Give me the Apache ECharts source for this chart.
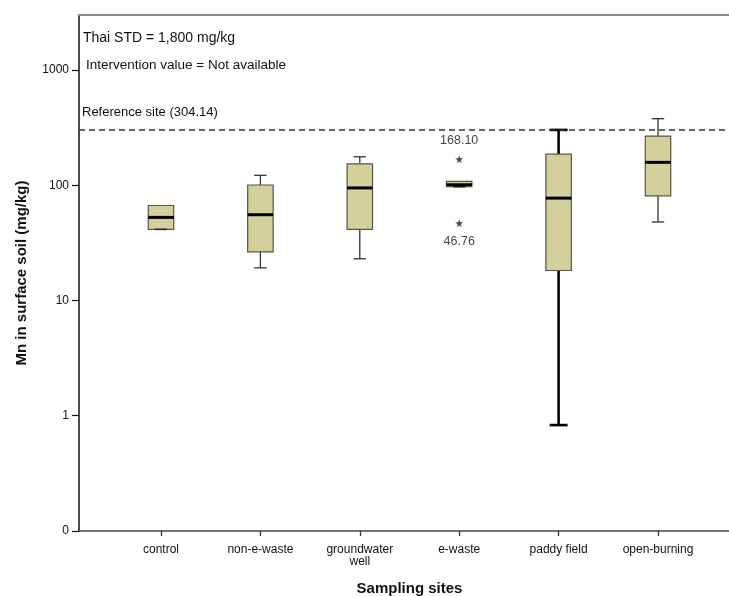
<!DOCTYPE html>
<html>
<head>
<meta charset="utf-8">
<script src="https://cdn.jsdelivr.net/npm/echarts@6/dist/echarts.min.js"></script>
<style>
html,body{margin:0;padding:0;background:#fff;}
#chart{width:729px;height:596px;}
</style>
</head>
<body>
<div id="chart"></div>
<script>
// ---- data ----
const categories = ['control', 'non-e-waste', 'groundwater\nwell', 'e-waste', 'paddy field', 'open-burning'];
const whiskerLow  = [41.4, 19.2, 23.0, 97, 0.83, 48];
const q1          = [41.4, 26.4, 41.4, 97, 18.2, 80.9];
const median      = [52.6, 55.5, 94.8, 101, 77.3, 158];
const q3          = [66.7, 100.5, 153.5, 108, 186.4, 267];
const whiskerHigh = [66.7, 122, 176.6, 108, 302, 378];
const outlierCategory = [3, 3];
const outlierValues = [168.10, 46.76];
const referenceValue = 304.14;
const yTickValues = [0.1, 1, 10, 100, 1000];
const annotations = ['Thai STD = 1,800 mg/kg', 'Intervention value = Not available'];

// ---- styles ----
const heavyCategory = 'paddy field';
const FONT = 'Liberation Sans, Arial, sans-serif';
const boxFill = '#d4d09b';

const boxData = categories.map((c, i) => [i, whiskerLow[i], q1[i], median[i], q3[i], whiskerHigh[i]]);
const outlierData = outlierValues.map((v, i) => ({
  value: [outlierCategory[i], v],
  label: { position: v > median[outlierCategory[i]] ? 'top' : 'bottom' }
}));

const chart = echarts.init(document.getElementById('chart'), null, { renderer: 'canvas' });

const starPath = 'path://M0,-10L2.35,-3.24L9.51,-3.09L3.8,1.24L5.88,8.09L0,4L-5.88,8.09L-3.8,1.24L-9.51,-3.09L-2.35,-3.24Z';

function renderBox(params, api) {
  const idx = api.value(0);
  const lo = api.coord([idx, api.value(1)]);
  const b1 = api.coord([idx, api.value(2)]);
  const md = api.coord([idx, api.value(3)]);
  const b3 = api.coord([idx, api.value(4)]);
  const hi = api.coord([idx, api.value(5)]);
  const band = api.size([1, 1])[0];
  const hw = band * 0.128;
  const heavy = categories[idx] === heavyCategory;
  const cw = band * (heavy ? 0.09 : 0.062);
  const wStyle = { stroke: heavy ? '#000' : '#333', lineWidth: heavy ? 2.6 : 1.3 };
  const x = lo[0];
  const children = [];
  if (hi[1] < b3[1] - 0.5) {
    children.push({ type: 'line', shape: { x1: x, y1: hi[1], x2: x, y2: b3[1] }, style: wStyle });
    children.push({ type: 'line', shape: { x1: x - cw, y1: hi[1], x2: x + cw, y2: hi[1] }, style: wStyle });
  }
  if (lo[1] > b1[1] + 0.5) {
    children.push({ type: 'line', shape: { x1: x, y1: b1[1], x2: x, y2: lo[1] }, style: wStyle });
    children.push({ type: 'line', shape: { x1: x - cw, y1: lo[1], x2: x + cw, y2: lo[1] }, style: wStyle });
  }
  children.push({
    type: 'rect',
    shape: { x: x - hw, y: b3[1], width: hw * 2, height: Math.max(b1[1] - b3[1], 1) },
    style: { fill: boxFill, stroke: '#55554a', lineWidth: 1.2 }
  });
  if (Math.abs(lo[1] - b1[1]) <= 0.5) {
    children.push({ type: 'line', shape: { x1: x - cw, y1: b1[1], x2: x + cw, y2: b1[1] }, style: { stroke: '#222', lineWidth: 1.5 } });
  }
  children.push({ type: 'line', shape: { x1: x - hw, y1: md[1], x2: x + hw, y2: md[1] }, style: { stroke: '#000', lineWidth: 3 } });
  return { type: 'group', children };
}

const yAxisBase = {
  type: 'log',
  logBase: 10,
  min: 0.1,
  max: 3000,
  splitLine: { show: false }
};

const option = {
  backgroundColor: '#fff',
  animation: false,
  grid: [
    { left: 79, right: 0, top: 15, bottom: 65, outerBoundsMode: 'none', containLabel: false },
    { left: 111.3, right: 21.3, top: 15, bottom: 65, outerBoundsMode: 'none', containLabel: false }
  ],
  xAxis: [
    {
      gridIndex: 0, type: 'value', min: 0, max: 1, position: 'bottom',
      axisLine: { show: true, lineStyle: { color: '#444', width: 1.5 } },
      axisTick: { show: false }, axisLabel: { show: false }, splitLine: { show: false }
    },
    {
      gridIndex: 0, type: 'value', min: 0, max: 1, position: 'top',
      axisLine: { show: true, lineStyle: { color: '#8c8c8c', width: 2 } },
      axisTick: { show: false }, axisLabel: { show: false }, splitLine: { show: false }
    },
    {
      gridIndex: 1, type: 'category', data: categories, boundaryGap: true, position: 'bottom',
      axisLine: { show: false },
      axisTick: { show: true, alignWithLabel: true, length: 5, lineStyle: { color: '#333', width: 1.3 } },
      axisLabel: { margin: 13, fontFamily: FONT, fontSize: 12, color: '#111', lineHeight: 12, interval: 0 },
      splitLine: { show: false },
      name: 'Sampling sites', nameLocation: 'middle', nameGap: 50,
      nameTextStyle: { fontFamily: FONT, fontSize: 15, fontWeight: 'bold', color: '#111' }
    }
  ],
  yAxis: [
    Object.assign({}, yAxisBase, {
      gridIndex: 0,
      axisLine: { show: true, lineStyle: { color: '#111', width: 1.5 } },
      axisTick: { show: true, length: 7, lineStyle: { color: '#111', width: 1.2 } },
      axisLabel: {
        margin: 10, fontFamily: FONT, fontSize: 12, color: '#111', showMaxLabel: false,
        formatter: function (v) {
          const hit = yTickValues.find(t => Math.abs(Math.log10(t) - Math.log10(v)) < 1e-6);
          if (hit === undefined) return '';
          return hit < 1 ? '0' : String(hit);
        }
      },
      name: 'Mn in surface soil (mg/kg)', nameLocation: 'middle', nameGap: 50,
      nameTextStyle: { fontFamily: FONT, fontSize: 15, fontWeight: 'bold', color: '#111' }
    }),
    Object.assign({}, yAxisBase, { gridIndex: 1, show: false })
  ],
  series: [
    {
      type: 'line', xAxisIndex: 0, yAxisIndex: 0, data: [], silent: true,
      markLine: {
        silent: true, symbol: 'none',
        lineStyle: { color: '#333', type: [6, 4], width: 1.5 },
        label: {
          show: true, position: 'insideStartTop', distance: [3, 11],
          formatter: 'Reference site (' + referenceValue + ')',
          fontFamily: FONT, fontSize: 13, color: '#111'
        },
        data: [{ yAxis: referenceValue }]
      }
    },
    {
      type: 'custom', xAxisIndex: 2, yAxisIndex: 1,
      renderItem: renderBox,
      encode: { x: 0, y: [1, 2, 3, 4, 5] },
      data: boxData
    },
    {
      type: 'scatter', xAxisIndex: 2, yAxisIndex: 1,
      symbol: starPath, symbolSize: 8,
      itemStyle: { color: '#222' },
      label: {
        show: true, distance: 8, fontFamily: FONT, fontSize: 12.5, color: '#111',
        formatter: p => p.value[1].toFixed(2)
      },
      data: outlierData
    }
  ],
  graphic: [
    { type: 'text', left: 83, top: 31, style: { text: annotations[0], font: '14px ' + FONT, fill: '#111' } },
    { type: 'text', left: 86, top: 58, style: { text: annotations[1], font: '13.5px ' + FONT, fill: '#111' } }
  ]
};

chart.setOption(option);
</script>
</body>
</html>
